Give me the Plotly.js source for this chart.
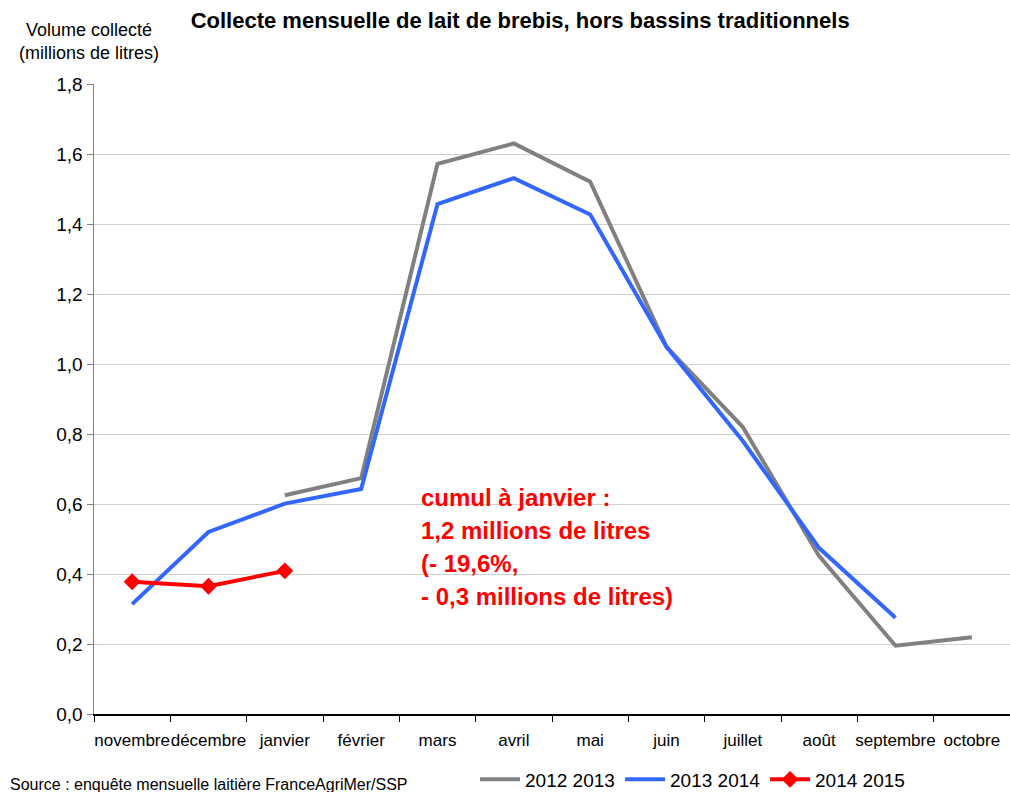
<!DOCTYPE html>
<html>
<head>
<meta charset="utf-8">
<script src="https://cdn.plot.ly/plotly-3.0.1.min.js"></script>
<style>html,body{margin:0;padding:0;background:#fff;overflow:hidden;}#chart{width:1010px;height:792px;}</style>
</head>
<body>
<div id="chart"></div>
<script>
var months = ["novembre","décembre","janvier","février","mars","avril","mai","juin","juillet","août","septembre","octobre"];
var serie2012_2013 = [null, null, 0.625, 0.674, 1.572, 1.630, 1.521, 1.049, 0.820, 0.451, 0.195, 0.219];
var serie2013_2014 = [0.314, 0.520, 0.601, 0.643, 1.457, 1.531, 1.427, 1.049, 0.780, 0.474, 0.275, null];
var serie2014_2015 = [0.378, 0.365, 0.409];
var seriesNames = ["2012 2013", "2013 2014", "2014 2015"];
var yTicks = [0, 0.2, 0.4, 0.6, 0.8, 1.0, 1.2, 1.4, 1.6, 1.8];
var noteLines = ["cumul à janvier :", "1,2 millions de litres", "(- 19,6%,", "- 0,3 millions de litres)"];

var font = "Liberation Sans, Arial, sans-serif";

var traces = [
  {x: months, y: serie2012_2013, name: seriesNames[0], type: "scatter", mode: "lines",
   line: {color: "#808080", width: 4}, connectgaps: false},
  {x: months, y: serie2013_2014, name: seriesNames[1], type: "scatter", mode: "lines",
   line: {color: "#3366ff", width: 4}, connectgaps: false},
  {x: months.slice(0, serie2014_2015.length), y: serie2014_2015, name: seriesNames[2], type: "scatter", mode: "lines+markers",
   line: {color: "#ff0000", width: 4}, marker: {symbol: "diamond", size: 13, color: "#ff0000"}}
];

var annotations = [
  {text: "Volume collecté<br>(millions de litres)", xref: "paper", yref: "paper",
   x: -0.005, y: 1.0667, xanchor: "center", yanchor: "middle", showarrow: false,
   font: {family: font, size: 18, color: "#000"}, align: "center"},
  {text: "Source : enquête mensuelle laitière FranceAgriMer/SSP", xref: "paper", yref: "paper",
   x: -0.094, y: -0.112, xanchor: "left", yanchor: "middle", showarrow: false,
   font: {family: font, size: 16, color: "#000"}}
];
for (var i = 0; i < noteLines.length; i++) {
  annotations.push({text: "<b>" + noteLines[i] + "</b>", xref: "paper", yref: "paper",
    x: 0.355, y: 0.343 - i * 0.0524, xanchor: "left", yanchor: "middle", showarrow: false,
    font: {family: font, size: 24, color: "#ff0000"}, align: "left"});
}

var layout = {
  width: 1010, height: 792,
  margin: {l: 94, r: 0, t: 84, b: 78, autoexpand: false},
  paper_bgcolor: "#fff", plot_bgcolor: "#fff",
  separators: ", ",
  font: {family: font, size: 17, color: "#000"},
  title: {text: "<b>Collecte mensuelle de lait de brebis, hors bassins traditionnels</b>",
          x: 0.515, xanchor: "center", y: 0.975, yanchor: "middle", yref: "container",
          font: {family: font, size: 22, color: "#000"}},
  xaxis: {type: "category", categoryorder: "array", categoryarray: months,
          range: [-0.5, 11.5], tickson: "boundaries", ticks: "outside", ticklen: 6,
          tickcolor: "#000", tickwidth: 1, showline: true, linecolor: "#000", linewidth: 1.5,
          showgrid: false, tickangle: 0, ticklabelstandoff: 10,
          tickfont: {family: font, size: 17, color: "#000"}, fixedrange: true},
  yaxis: {range: [0, 1.8], tickvals: yTicks, tickformat: ".1f", ticks: "outside", ticklen: 6,
          tickcolor: "#808080", showline: true, linecolor: "#808080", linewidth: 1.5,
          showgrid: true, gridcolor: "#d0d0d0", gridwidth: 1, zeroline: false,
          tickfont: {family: font, size: 19, color: "#000"}, fixedrange: true},
  legend: {orientation: "h", x: 0.416, xanchor: "left", y: -0.104, yanchor: "middle",
           font: {family: font, size: 19, color: "#000"}, bgcolor: "rgba(0,0,0,0)",
           itemwidth: 40, entrywidth: 90, entrywidthmode: "pixels", tracegroupgap: 0},
  showlegend: true,
  annotations: annotations
};

Plotly.newPlot("chart", traces, layout, {displayModeBar: false, staticPlot: true});
</script>
</body>
</html>
